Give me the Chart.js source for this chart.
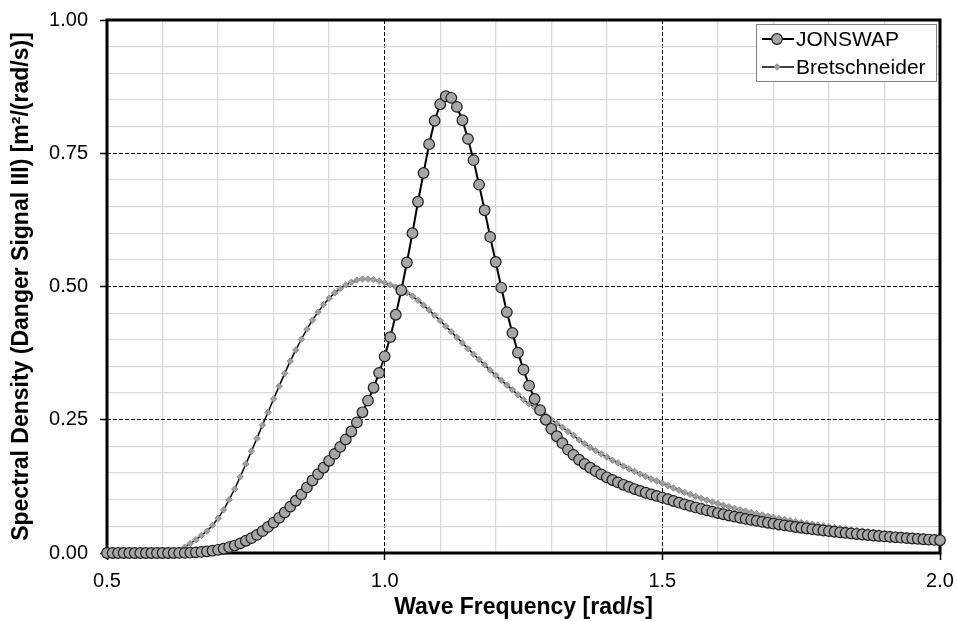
<!DOCTYPE html>
<html><head><meta charset="utf-8">
<script src="https://cdn.jsdelivr.net/npm/chart.js@4/dist/chart.umd.min.js"></script>
<style>html,body{margin:0;padding:0;background:#fff}#c{display:block}</style>
</head><body>
<canvas id="c" width="957" height="621"></canvas>
<script>
const frequencies = [
0.50,0.51,0.52,0.53,0.54,0.55,0.56,0.57,0.58,0.59,
0.60,0.61,0.62,0.63,0.64,0.65,0.66,0.67,0.68,0.69,
0.70,0.71,0.72,0.73,0.74,0.75,0.76,0.77,0.78,0.79,
0.80,0.81,0.82,0.83,0.84,0.85,0.86,0.87,0.88,0.89,
0.90,0.91,0.92,0.93,0.94,0.95,0.96,0.97,0.98,0.99,
1.00,1.01,1.02,1.03,1.04,1.05,1.06,1.07,1.08,1.09,
1.10,1.11,1.12,1.13,1.14,1.15,1.16,1.17,1.18,1.19,
1.20,1.21,1.22,1.23,1.24,1.25,1.26,1.27,1.28,1.29,
1.30,1.31,1.32,1.33,1.34,1.35,1.36,1.37,1.38,1.39,
1.40,1.41,1.42,1.43,1.44,1.45,1.46,1.47,1.48,1.49,
1.50,1.51,1.52,1.53,1.54,1.55,1.56,1.57,1.58,1.59,
1.60,1.61,1.62,1.63,1.64,1.65,1.66,1.67,1.68,1.69,
1.70,1.71,1.72,1.73,1.74,1.75,1.76,1.77,1.78,1.79,
1.80,1.81,1.82,1.83,1.84,1.85,1.86,1.87,1.88,1.89,
1.90,1.91,1.92,1.93,1.94,1.95,1.96,1.97,1.98,1.99,
2.00];

const jonswap = [
0,0,0,0,0,0,0,0,0,0,
0,0,0,0.0001,0.0003,0.0006,0.0012,0.002,0.003,0.0043,
0.006,0.008,0.011,0.014,0.018,0.023,0.028,0.034,0.041,0.049,
0.057,0.066,0.076,0.087,0.098,0.110,0.123,0.136,0.148,0.160,
0.173,0.186,0.199,0.213,0.228,0.245,0.264,0.286,0.310,0.338,
0.369,0.405,0.447,0.493,0.545,0.600,0.659,0.713,0.767,0.811,
0.842,0.857,0.854,0.837,0.812,0.777,0.737,0.691,0.643,0.593,
0.546,0.498,0.452,0.413,0.376,0.344,0.314,0.289,0.268,0.250,
0.233,0.219,0.206,0.194,0.184,0.175,0.167,0.160,0.1535,0.1475,
0.142,0.137,0.1325,0.128,0.124,0.120,0.1165,0.113,0.110,0.107,
0.104,0.101,0.0976,0.0944,0.0913,0.0883,0.0855,0.0827,0.0800,0.0775,
0.0750,0.0727,0.0704,0.0682,0.0661,0.0641,0.0621,0.0602,0.0584,0.0567,
0.0550,0.0534,0.0518,0.0503,0.0488,0.0474,0.0460,0.0447,0.0434,0.0422,
0.0410,0.0399,0.0388,0.0377,0.0366,0.0356,0.0347,0.0337,0.0328,0.0319,
0.0311,0.0303,0.0295,0.0287,0.0279,0.0272,0.0265,0.0258,0.0252,0.0245,
0.0239];

const bretschneider = [
0,0,0,0,0,0,0,0,0,0,
0,0.0005,0.002,0.005,0.011,0.018,0.025,0.033,0.041,0.052,
0.065,0.081,0.100,0.120,0.143,0.167,0.191,0.215,0.240,0.264,
0.289,0.313,0.337,0.360,0.381,0.401,0.420,0.437,0.452,0.466,
0.478,0.488,0.496,0.503,0.508,0.512,0.514,0.514,0.513,0.510,
0.507,0.503,0.499,0.494,0.488,0.482,0.474,0.465,0.456,0.446,
0.436,0.4255,0.415,0.4045,0.394,0.3835,0.373,0.363,0.353,0.343,
0.3335,0.324,0.315,0.306,0.297,0.288,0.280,0.273,0.266,0.258,
0.250,0.243,0.236,0.228,0.221,0.212,0.205,0.198,0.192,0.186,
0.180,0.174,0.169,0.163,0.158,0.153,0.148,0.1435,0.139,0.135,
0.131,0.1264,0.1220,0.1178,0.1138,0.1099,0.1062,0.1026,0.0992,0.0959,
0.0927,0.0896,0.0867,0.0839,0.0812,0.0786,0.0761,0.0737,0.0714,0.0691,
0.0670,0.0649,0.0629,0.0610,0.0591,0.0573,0.0556,0.0539,0.0523,0.0508,
0.0493,0.0479,0.0465,0.0451,0.0438,0.0426,0.0414,0.0402,0.0391,0.0380,
0.0369,0.0359,0.0349,0.0339,0.0330,0.0321,0.0312,0.0304,0.0296,0.0288,
0.0280];

const xTickLabels = ['0.5','1.0','1.5','2.0'];
const yTickLabels = ['0.00','0.25','0.50','0.75','1.00'];
const seriesNames = ['JONSWAP','Bretschneider'];

const FONT = "'Liberation Sans', Arial, Helvetica, sans-serif";
Chart.defaults.font.family = FONT;
Chart.defaults.color = '#000';

const isMajorX = v => Math.abs(v * 2 - Math.round(v * 2)) < 1e-6;
const isMajorY = v => Math.abs(v * 4 - Math.round(v * 4)) < 1e-6;

const framePlugin = {
  id: 'frame',
  beforeDatasetsDraw(chart) {
    const {ctx, chartArea: a} = chart;
    ctx.save();
    ctx.strokeStyle = '#000';
    ctx.lineWidth = 3;
    ctx.strokeRect(a.left, a.top, a.right - a.left, a.bottom - a.top);
    ctx.restore();
  }
};

const legendPlugin = {
  id: 'boxLegend',
  afterDatasetsDraw(chart) {
    const ctx = chart.ctx, a = chart.chartArea;
    const w = 180, h = 57;
    const x0 = Math.round(a.right - 4 - w), y0 = Math.round(a.top + 4);
    ctx.save();
    ctx.fillStyle = '#fff';
    ctx.fillRect(x0, y0, w, h);
    ctx.strokeStyle = '#808080';
    ctx.lineWidth = 1;
    ctx.strokeRect(x0 + 0.5, y0 + 0.5, w, h);
    chart.data.datasets.forEach((ds, i) => {
      const cy = y0 + 15 + i * 28;
      ctx.strokeStyle = ds.borderColor;
      ctx.lineWidth = ds.borderWidth;
      ctx.beginPath(); ctx.moveTo(x0 + 6, cy); ctx.lineTo(x0 + 38, cy); ctx.stroke();
      ctx.fillStyle = ds.pointBackgroundColor;
      ctx.strokeStyle = ds.pointBorderColor;
      ctx.lineWidth = ds.pointBorderWidth;
      Chart.helpers.drawPoint(ctx, {pointStyle: ds.pointStyle, radius: ds.pointRadius, borderWidth: ds.pointBorderWidth, rotation: 0}, x0 + 21, cy);
      ctx.fillStyle = '#000';
      ctx.font = '21px ' + FONT;
      ctx.textBaseline = 'middle';
      ctx.textAlign = 'left';
      ctx.fillText(ds.label, x0 + 40, cy + 1);
    });
    ctx.restore();
  }
};

const toXY = ys => frequencies.map((f, i) => ({x: f, y: ys[i]}));

new Chart(document.getElementById('c'), {
  type: 'line',
  data: {
    datasets: [
      {
        label: seriesNames[0],
        data: toXY(jonswap),
        borderColor: '#000', borderWidth: 2,
        pointStyle: 'circle', pointRadius: 5.3, pointHoverRadius: 5.3,
        pointBackgroundColor: '#a6a6a6', pointBorderColor: '#1e1e1e', pointBorderWidth: 1.2,
        tension: 0, clip: false
      },
      {
        label: seriesNames[1],
        data: toXY(bretschneider),
        borderColor: '#000', borderWidth: 1.5,
        pointStyle: 'rectRot', pointRadius: 3.2, pointHoverRadius: 3.2,
        pointBackgroundColor: '#a0a0a0', pointBorderColor: '#8a8a8a', pointBorderWidth: 1,
        tension: 0, clip: false
      }
    ]
  },
  options: {
    responsive: false,
    animation: false,
    devicePixelRatio: 1,
    layout: {padding: {left: 0, right: 17, top: 20, bottom: 0}},
    plugins: {legend: {display: false}, tooltip: {enabled: false}},
    scales: {
      x: {
        type: 'linear', min: 0.5, max: 2.0,
        afterFit: s => { s.height = 68; s.paddingLeft = 0; s.paddingRight = 0; },
        ticks: {
          stepSize: 0.1, autoSkip: false, maxRotation: 0, padding: 9,
          font: {size: 20},
          callback: v => isMajorX(v) ? xTickLabels[Math.round((v - 0.5) / 0.5)] : ''
        },
        grid: {
          color: c => (c.tick && isMajorX(c.tick.value)) ? '#000' : '#d9d9d9',
          lineWidth: c => (c.tick && isMajorX(c.tick.value)) ? 1 : 1.3,
          tickColor: c => (c.tick && isMajorX(c.tick.value)) ? '#000' : 'rgba(0,0,0,0)',
          tickLength: 7, tickWidth: 1.5
        },
        border: {display: false, dash: c => (c.tick && isMajorX(c.tick.value)) ? [4, 2] : []},
        title: {display: true, text: 'Wave Frequency [rad/s]', font: {size: 23, weight: 'bold'}, padding: {top: 0, bottom: 0}}
      },
      y: {
        type: 'linear', min: 0, max: 1,
        afterFit: s => { s.width = 107; s.paddingTop = 0; s.paddingBottom = 0; },
        ticks: {
          stepSize: 0.05, autoSkip: false, padding: 12,
          font: {size: 20},
          callback: v => isMajorY(v) ? yTickLabels[Math.round(v * 4)] : ''
        },
        grid: {
          color: c => (c.tick && isMajorY(c.tick.value)) ? '#000' : '#d9d9d9',
          lineWidth: c => (c.tick && isMajorY(c.tick.value)) ? 1 : 1.3,
          tickColor: c => (c.tick && isMajorY(c.tick.value)) ? '#000' : 'rgba(0,0,0,0)',
          tickLength: 7, tickWidth: 1.5
        },
        border: {display: false, dash: c => (c.tick && isMajorY(c.tick.value)) ? [4, 2] : []},
        title: {display: true, text: 'Spectral Density (Danger Signal III) [m²/(rad/s)]', font: {size: 23, weight: 'bold'}, padding: {top: 8, bottom: 0}}
      }
    }
  },
  plugins: [framePlugin, legendPlugin]
});
</script>
</body></html>
